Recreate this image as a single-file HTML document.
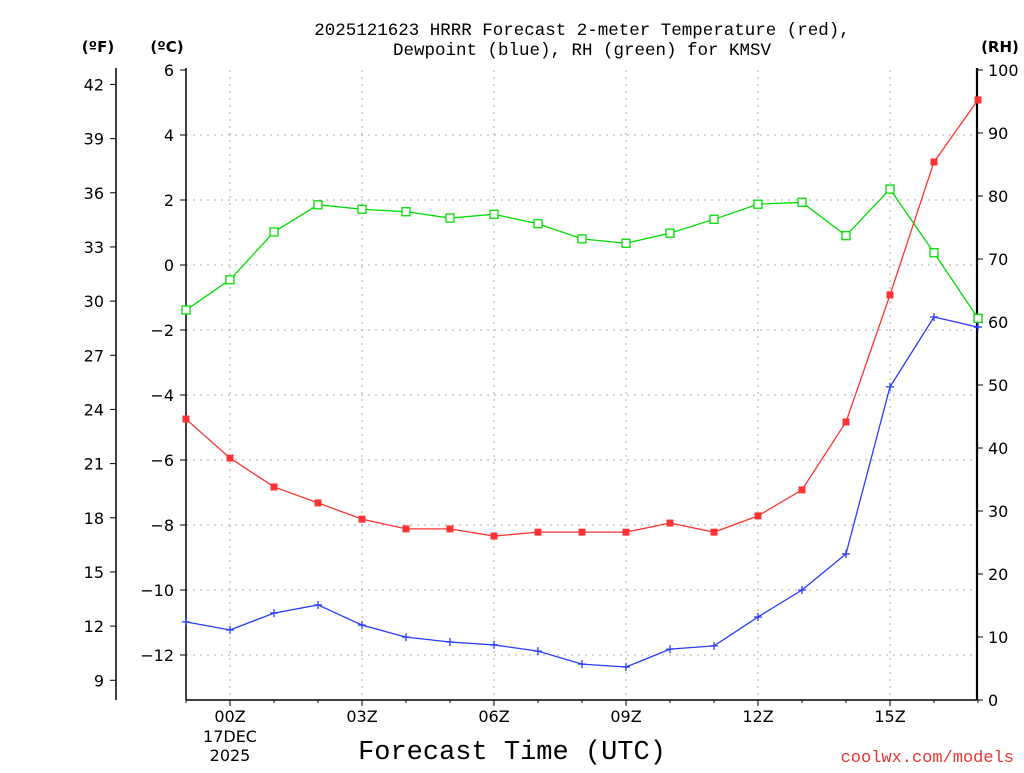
<!DOCTYPE html>
<html><head><meta charset="utf-8"><style>
html,body{margin:0;padding:0;background:#fff;}
svg text{font-family:"DejaVu Sans","Liberation Sans",sans-serif;}
svg text.mono{font-family:"Liberation Mono","DejaVu Sans Mono",monospace;}
</style></head><body>
<svg id="chart" width="1024" height="768" viewBox="0 0 1024 768" xmlns="http://www.w3.org/2000/svg">
<rect width="1024" height="768" fill="#fff"/>
<text class="mono" x="582" y="35" font-size="17.5" text-anchor="middle" fill="#000">2025121623 HRRR Forecast 2-meter Temperature (red),</text>
<text class="mono" x="582" y="55" font-size="17.5" text-anchor="middle" fill="#000">Dewpoint (blue), RH (green) for KMSV</text>
<text x="98" y="52" font-size="15" font-weight="bold" text-anchor="middle">(ºF)</text>
<text x="167" y="52" font-size="15" font-weight="bold" text-anchor="middle">(ºC)</text>
<text x="1000" y="52" font-size="15" font-weight="bold" text-anchor="middle">(RH)</text>
<text class="mono" x="512" y="759" font-size="27" text-anchor="middle">Forecast Time (UTC)</text>
<text class="mono" x="1014" y="762" font-size="17" text-anchor="end" fill="#e33">coolwx.com/models</text>
<g id="grid"></g><g id="axes"></g><g id="series"></g>
</svg>
<script>
const hours=[-1,0,1,2,3,4,5,6,7,8,9,10,11,12,13,14,15,16,17];
const tempC=[-4.74,-5.94,-6.83,-7.32,-7.82,-8.12,-8.12,-8.34,-8.22,-8.22,-8.22,-7.94,-8.22,-7.72,-6.92,-4.83,-0.92,3.17,5.08];
const dewC=[-10.98,-11.23,-10.71,-10.46,-11.08,-11.45,-11.6,-11.69,-11.88,-12.28,-12.37,-11.82,-11.72,-10.83,-10.0,-8.89,-3.75,-1.6,-1.91];
const rh=[61.9,66.7,74.3,78.6,77.9,77.5,76.5,77.1,75.6,73.2,72.5,74.1,76.3,78.7,79.0,73.7,81.1,71.0,60.6];
const cTicks=[6,4,2,0,-2,-4,-6,-8,-10,-12];
const fTicks=[42,39,36,33,30,27,24,21,18,15,12,9];
const rhTicks=[100,90,80,70,60,50,40,30,20,10,0];
const xTickHours=[0,3,6,9,12,15];
const xTickLabels=["00Z","03Z","06Z","09Z","12Z","15Z"];

const NS="http://www.w3.org/2000/svg";
const L=186,R=977,T=70,B=700;
const x=h=>230+(h)*44;
const yC=c=>70+(6-c)*32.5;
const yF=f=>yC((f-32)*5/9);
const yRH=v=>B-(v/100)*(B-T);
function mk(tag,attrs,parent,txt){const e=document.createElementNS(NS,tag);for(const k in attrs)e.setAttribute(k,attrs[k]);if(txt!==undefined)e.textContent=txt;parent.appendChild(e);return e;}
const grid=document.getElementById('grid'),axes=document.getElementById('axes'),ser=document.getElementById('series');
cTicks.forEach(c=>{if(c===6)return;const l=mk('line',{x1:L,x2:R,y1:yC(c),y2:yC(c),stroke:'#aaa','stroke-width':1,'stroke-dasharray':'2,5'},grid);

});
xTickHours.forEach(h=>{const l=mk('line',{x1:x(h),x2:x(h),y1:T,y2:B,stroke:'#aaa','stroke-width':1,'stroke-dasharray':'2,5'},grid);

});
let a=mk('line',{x1:L,x2:L,y1:T-2,y2:B,stroke:'#000','stroke-width':1.5},axes);


a=mk('line',{x1:R,x2:R,y1:T-2,y2:B,stroke:'#000','stroke-width':2.2},axes);


a=mk('line',{x1:116,x2:116,y1:T-2,y2:B,stroke:'#000','stroke-width':1.5},axes);


a=mk('line',{x1:L,x2:R,y1:B,y2:B,stroke:'#000','stroke-width':1.5},axes);


cTicks.forEach(c=>{mk('line',{x1:L-6,x2:L,y1:yC(c),y2:yC(c),stroke:'#000'},axes);
const t=mk('text',{x:L-12,y:yC(c)+6,'font-size':16,'text-anchor':'end'},axes,c<0?'\u2212'+(-c):String(c));

});
fTicks.forEach(f=>{mk('line',{x1:110,x2:116,y1:yF(f),y2:yF(f),stroke:'#000'},axes);
const t=mk('text',{x:104,y:yF(f)+6,'font-size':16,'text-anchor':'end'},axes,String(f));

});
rhTicks.forEach(v=>{mk('line',{x1:R,x2:R+6,y1:yRH(v),y2:yRH(v),stroke:'#000'},axes);
const t=mk('text',{x:988,y:yRH(v)+6,'font-size':16,'text-anchor':'start'},axes,String(v));

});
hours.forEach(h=>{mk('line',{x1:x(h),x2:x(h),y1:B,y2:B+(h%3===0?6:3),stroke:'#000'},axes);});
xTickHours.forEach((h,i)=>{const t=mk('text',{x:x(h),y:722,'font-size':16,'text-anchor':'middle'},axes,xTickLabels[i]);

});
let d=mk('text',{x:x(0),y:742,'font-size':16,'text-anchor':'middle'},axes,'17DEC');


d=mk('text',{x:x(0),y:761,'font-size':16,'text-anchor':'middle'},axes,'2025');


function line(vals,fy,color,name){const pts=hours.map((h,i)=>x(h)+','+fy(vals[i])).join(' ');
const p=mk('polyline',{points:pts,fill:'none',stroke:color,'stroke-width':1.3},ser);

}
line(rh,yRH,'#00dd00','rh-line');line(tempC,yC,'#ff3333','temperature-line');line(dewC,yC,'#2a3bff','dewpoint-line');
hours.forEach((h,i)=>{const s=mk('rect',{x:x(h)-4,y:yRH(rh[i])-4,width:8,height:8,fill:'#fff',stroke:'#00dd00','stroke-width':1.3},ser);


const r=mk('rect',{x:x(h)-3.5,y:yC(tempC[i])-3.5,width:7,height:7,fill:'#f33'},ser);


const p=mk('path',{d:`M${x(h)-4},${yC(dewC[i])}h8M${x(h)},${yC(dewC[i])-4}v8`,stroke:'#2a3bff','stroke-width':1.3},ser);

});
</script>
</body></html>
